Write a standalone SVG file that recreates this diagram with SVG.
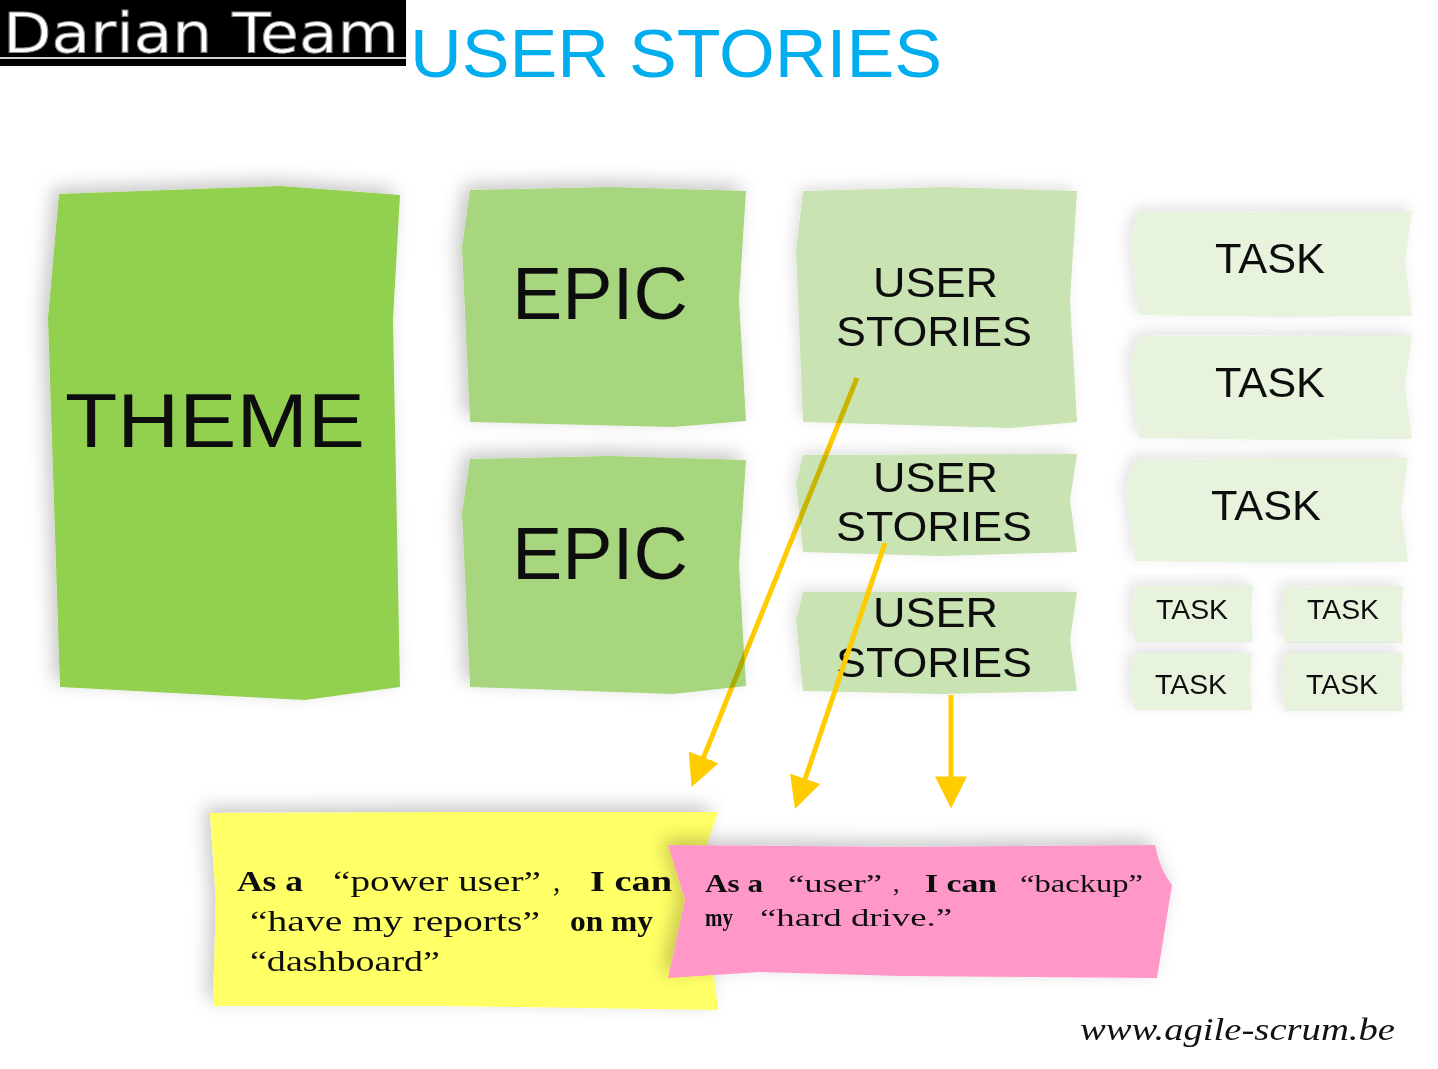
<svg xmlns="http://www.w3.org/2000/svg" width="1438" height="1069" viewBox="0 0 1438 1069">
  <defs>
    <filter id="soft" x="-20%" y="-20%" width="140%" height="140%">
      <feDropShadow dx="-6" dy="-6" stdDeviation="9" flood-color="#000" flood-opacity="0.22"/>
    </filter>
    <filter id="softLight" x="-20%" y="-20%" width="140%" height="140%">
      <feDropShadow dx="-4" dy="-4" stdDeviation="7" flood-color="#000" flood-opacity="0.12"/>
    </filter>
    <marker id="head" viewBox="0 0 10 10" refX="8" refY="5" markerWidth="6.4" markerHeight="6.4" orient="auto" markerUnits="strokeWidth">
      <path d="M0,0 L10,5 L0,10 Z" fill="#FFCC00"/>
    </marker>
  </defs>
  <style>
    .hand { font-family: "Liberation Sans", "DejaVu Sans", sans-serif; fill: #111; }
    .story { font-family: "Liberation Serif", "DejaVu Serif", serif; fill: #111; }
    .b { font-weight: bold; }
    .theme { fill: #92D050; }
    .epic { fill: #A8D67E; }
    .us { fill: #C9E3B3; }
    .task { fill: #E8F3DE; }
    .arrow { fill: none; stroke: #FFCC00; stroke-width: 5; marker-end: url(#head); }
    .under { mix-blend-mode: multiply; }
  </style>

  <rect width="1438" height="1069" fill="#fff"/>

  <!-- header -->
  <g id="header">
    <rect x="0" y="0" width="406" height="66" fill="#000"/>
    <rect x="0" y="57" width="406" height="2" fill="#cfcfcf"/>
    <text x="3" y="52" font-family="DejaVu Sans, sans-serif" font-size="56" fill="#fff" stroke="#888" stroke-width="1" textLength="396" lengthAdjust="spacingAndGlyphs">Darian Team</text>
    <text x="410" y="77" font-family="Liberation Sans, sans-serif" font-size="68" fill="#00AEEF" textLength="532" lengthAdjust="spacingAndGlyphs">USER STORIES</text>
  </g>

  <!-- theme -->
  <g id="theme" filter="url(#soft)">
    <path class="theme" d="M59,194 L280,186 L400,195 L393,320 L400,687 L305,700 L60,687 L48,318 Z"/>
    <text class="hand" x="65" y="447" font-size="76" textLength="300" lengthAdjust="spacingAndGlyphs">THEME</text>
  </g>

  <!-- epics -->
  <g id="epic1" filter="url(#soft)">
    <path class="epic" d="M470,190 L610,187 L746,191 L739,300 L746,421 L673,427 L470,422 L462,247 Z"/>
    <text class="hand" x="512" y="319" font-size="74" textLength="176" lengthAdjust="spacingAndGlyphs">EPIC</text>
  </g>
  <g id="epic2" filter="url(#soft)">
    <path class="epic" d="M470,459 L610,456 L746,460 L739,565 L746,686 L673,694 L470,687 L462,513 Z"/>
    <text class="hand" x="512" y="579" font-size="74" textLength="176" lengthAdjust="spacingAndGlyphs">EPIC</text>
  </g>

  <!-- user stories -->
  <g id="story1" filter="url(#softLight)">
    <path class="us" d="M803,191 L945,187 L1077,191 L1070,300 L1077,422 L1010,428 L803,422 L796,250 Z"/>
    <text class="hand" x="873" y="297" font-size="42" textLength="125" lengthAdjust="spacingAndGlyphs">USER</text>
    <text class="hand" x="836" y="346" font-size="42" textLength="196" lengthAdjust="spacingAndGlyphs">STORIES</text>
  </g>
  <g id="story2" filter="url(#softLight)">
    <path class="us" d="M803,455 L1077,454 L1070,500 L1077,552 L940,556 L803,552 L796,483 Z"/>
    <text class="hand" x="873" y="492" font-size="42" textLength="125" lengthAdjust="spacingAndGlyphs">USER</text>
    <text class="hand" x="836" y="541" font-size="42" textLength="196" lengthAdjust="spacingAndGlyphs">STORIES</text>
  </g>
  <g id="story3" filter="url(#softLight)">
    <path class="us" d="M803,592 L1077,592 L1070,640 L1077,691 L940,694 L803,691 L796,620 Z"/>
    <text class="hand" x="873" y="627" font-size="42" textLength="125" lengthAdjust="spacingAndGlyphs">USER</text>
    <text class="hand" x="836" y="677" font-size="42" textLength="196" lengthAdjust="spacingAndGlyphs">STORIES</text>
  </g>

  <!-- tasks -->
  <g id="task1" filter="url(#softLight)">
    <path class="task" d="M1139,212 L1412,211 L1405,262 L1412,316 L1280,317 L1139,315 L1130,238 Z"/>
    <text class="hand" x="1215" y="273" font-size="42" textLength="110" lengthAdjust="spacingAndGlyphs">TASK</text>
  </g>
  <g id="task2" filter="url(#softLight)">
    <path class="task" d="M1139,336 L1412,335 L1405,386 L1412,439 L1280,440 L1139,438 L1130,362 Z"/>
    <text class="hand" x="1215" y="397" font-size="42" textLength="110" lengthAdjust="spacingAndGlyphs">TASK</text>
  </g>
  <g id="task3" filter="url(#softLight)">
    <path class="task" d="M1135,459 L1408,458 L1401,510 L1408,562 L1280,563 L1135,561 L1126,486 Z"/>
    <text class="hand" x="1211" y="520" font-size="42" textLength="110" lengthAdjust="spacingAndGlyphs">TASK</text>
  </g>
  <g id="task4" filter="url(#softLight)">
    <path class="task" d="M1135,586 L1253,585 L1251,615 L1253,642 L1135,642 L1131,612 Z"/>
    <text class="hand" x="1156" y="619" font-size="28" textLength="72" lengthAdjust="spacingAndGlyphs">TASK</text>
  </g>
  <g id="task5" filter="url(#softLight)">
    <path class="task" d="M1285,587 L1403,586 L1401,615 L1403,643 L1285,643 L1281,612 Z"/>
    <text class="hand" x="1307" y="619" font-size="28" textLength="72" lengthAdjust="spacingAndGlyphs">TASK</text>
  </g>
  <g id="task6" filter="url(#softLight)">
    <path class="task" d="M1134,653 L1252,653 L1250,680 L1252,710 L1134,710 L1130,680 Z"/>
    <text class="hand" x="1155" y="694" font-size="28" textLength="72" lengthAdjust="spacingAndGlyphs">TASK</text>
  </g>
  <g id="task7" filter="url(#softLight)">
    <path class="task" d="M1285,653 L1403,653 L1401,680 L1403,711 L1285,711 L1281,680 Z"/>
    <text class="hand" x="1306" y="694" font-size="28" textLength="72" lengthAdjust="spacingAndGlyphs">TASK</text>
  </g>

  <!-- connectors; the first one is multiplied so the notes tint it -->
  <g id="connectors">
    <path class="arrow under" d="M857,378 L694,781"/>
    <path class="arrow" d="M885,543 L797,803"/>
    <path class="arrow" d="M951,695 L951,802"/>
  </g>

  <!-- yellow story card -->
  <g id="card-power-user" filter="url(#soft)">
    <path fill="#FFFF66" d="M210,813 L460,812 L718,812 L705,850 L712,960 L718,1010 L450,1006 L213,1006 L216,900 Z"/>
    <text class="story b" x="237" y="891" font-size="29" textLength="66" lengthAdjust="spacingAndGlyphs">As a</text>
    <text class="story" x="333" y="891" font-size="29" textLength="208" lengthAdjust="spacingAndGlyphs">“power user”</text>
    <text class="story" x="553" y="891" font-size="29">,</text>
    <text class="story b" x="590" y="891" font-size="29" textLength="82" lengthAdjust="spacingAndGlyphs">I can</text>
    <text class="story" x="250" y="931" font-size="29" textLength="290" lengthAdjust="spacingAndGlyphs">“have my reports”</text>
    <text class="story b" x="570" y="931" font-size="29" textLength="83" lengthAdjust="spacingAndGlyphs">on my</text>
    <text class="story" x="250" y="971" font-size="29" textLength="190" lengthAdjust="spacingAndGlyphs">“dashboard”</text>
  </g>

  <!-- pink story card -->
  <g id="card-user" filter="url(#soft)">
    <path fill="#FF97C9" d="M668,845 L900,847 L1155,845 Q1160,870 1172,885 L1157,978 L900,976 L760,972 L668,978 L685,900 Z"/>
    <text class="story b" x="705" y="892" font-size="26" textLength="58" lengthAdjust="spacingAndGlyphs">As a</text>
    <text class="story" x="788" y="892" font-size="26" textLength="94" lengthAdjust="spacingAndGlyphs">“user”</text>
    <text class="story" x="893" y="892" font-size="26">,</text>
    <text class="story b" x="925" y="892" font-size="26" textLength="72" lengthAdjust="spacingAndGlyphs">I can</text>
    <text class="story" x="1020" y="892" font-size="26" textLength="123" lengthAdjust="spacingAndGlyphs">“backup”</text>
    <text class="story b" x="705" y="926" font-size="26" textLength="28" lengthAdjust="spacingAndGlyphs">my</text>
    <text class="story" x="760" y="926" font-size="26" textLength="192" lengthAdjust="spacingAndGlyphs">“hard drive.”</text>
  </g>

  <!-- footer -->
  <text x="1080" y="1040" font-family="Liberation Serif, serif" font-style="italic" font-size="32" fill="#111" textLength="315" lengthAdjust="spacingAndGlyphs">www.agile-scrum.be</text>
</svg>
